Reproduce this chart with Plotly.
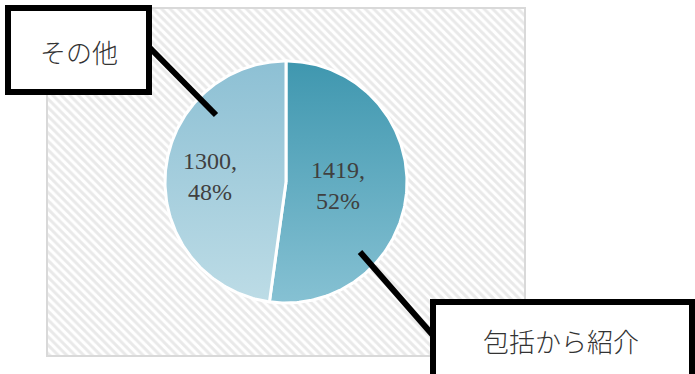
import math
import plotly.graph_objects as go

# Data
categories = ["包括から紹介", "その他"]
values = [1419, 1300]

# Slice styling (vertical gradients: bottom colour -> top colour)
slice_gradients = [
    ["#86c1d3", "#3f97af"],
    ["#bddce6", "#8dc0d4"],
]
label_radius = [0.43, 0.63]

W, H = 695, 374
cx, cy, r = 286, 182, 121

fig = go.Figure()

# Plot area with diagonal hatching
px0, py0, px1, py1 = 47, 8, 525, 356
fig.add_trace(go.Scatter(
    x=[px0, px1, px1, px0, px0], y=[py0, py0, py1, py1, py0],
    mode="lines", fill="toself",
    line=dict(color="#d9d9d9", width=2),
    fillcolor="white",
    fillpattern=dict(shape="\\", fgcolor="#d4d4d4", bgcolor="white",
                     size=6, solidity=0.5),
    hoverinfo="skip", showlegend=False,
))

total = sum(values)
start = 0.0
for i, (cat, v) in enumerate(zip(categories, values)):
    sweep = 360.0 * v / total
    n = max(int(sweep), 4)
    xs, ys = [cx], [cy]
    for k in range(n + 1):
        a = math.radians(start + sweep * k / n)
        xs.append(cx + r * math.sin(a))
        ys.append(cy - r * math.cos(a))
    xs.append(cx)
    ys.append(cy)
    c_bot, c_top = slice_gradients[i]
    fig.add_trace(go.Scatter(
        x=xs, y=ys, mode="lines", fill="toself",
        line=dict(color="white", width=3),
        fillgradient=dict(type="vertical",
                          colorscale=[[0, c_top], [1, c_bot]],
                          start=cy - r, stop=cy + r),
        name=cat, hoverinfo="name", showlegend=False,
    ))
    mid = math.radians(start + sweep / 2)
    lr = label_radius[i] * r
    pct = round(100 * v / total)
    fig.add_annotation(
        x=cx + lr * math.sin(mid), y=cy - lr * math.cos(mid),
        text=f"{v},<br>{pct}%", showarrow=False,
        font=dict(family="Liberation Serif", size=24, color="#404040"),
    )
    start += sweep

# Callout boxes and leader lines
callouts = [
    dict(box=(433, 302, 692, 385), text_xy=(561, 340),
         line=(360, 252, 437, 340)),
    dict(box=(8, 8, 149, 92), text_xy=(79, 51),
         line=(149, 47, 216, 115)),
]
for i, c in enumerate(callouts):
    x0, y0, x1, y1 = c["line"]
    fig.add_shape(type="line", x0=x0, y0=y0, x1=x1, y1=y1,
                  xref="x", yref="y", line=dict(color="black", width=6))
    bx0, by0, bx1, by1 = c["box"]
    fig.add_shape(type="rect", x0=bx0, y0=by0, x1=bx1, y1=by1,
                  xref="x", yref="y", fillcolor="white",
                  line=dict(color="black", width=6))
    fig.add_annotation(x=c["text_xy"][0], y=c["text_xy"][1],
                       text=categories[i], showarrow=False,
                       font=dict(family="Noto Sans CJK JP", size=26,
                                 color="#333333", weight=300))

fig.update_layout(
    width=W, height=H, autosize=False,
    margin=dict(l=0, r=0, t=0, b=0),
    paper_bgcolor="white", plot_bgcolor="white",
    xaxis=dict(range=[0, W], visible=False, fixedrange=True),
    yaxis=dict(range=[H, 0], visible=False, fixedrange=True),
    showlegend=False,
)

fig.write_html("out.html")
